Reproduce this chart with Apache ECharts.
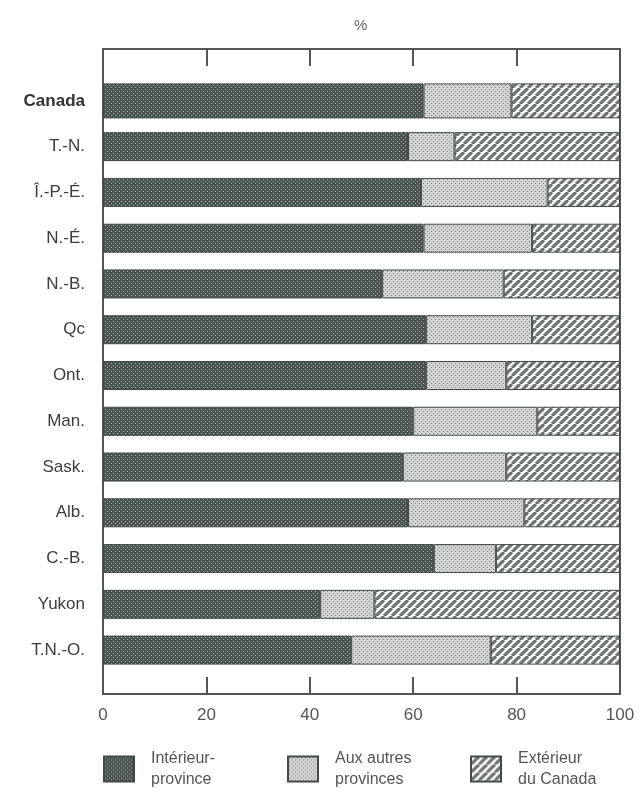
<!DOCTYPE html>
<html><head><meta charset="utf-8">
<script src="https://cdn.jsdelivr.net/npm/echarts@6/dist/echarts.min.js"></script>
<style>html,body{margin:0;padding:0;background:#fff}#c{width:639px;height:794px}</style>
</head><body><div id="c"></div>
<script>
// ---- data ----
const categories = ['Canada','T.-N.','Î.-P.-É.','N.-É.','N.-B.','Qc','Ont.','Man.','Sask.','Alb.','C.-B.','Yukon','T.N.-O.'];
const interieur = [62, 59, 61.5, 62, 54, 62.5, 62.5, 60, 58, 59, 64, 42, 48];
const autresProvinces = [17, 9, 24.5, 21, 23.5, 20.5, 15.5, 24, 20, 22.5, 12, 10.5, 27];
const exterieur = [21, 32, 14, 17, 22.5, 17, 22, 16, 22, 18.5, 24, 47.5, 25];
const seriesNames = ['Intérieur-\nprovince', 'Aux autres\nprovinces', 'Extérieur\ndu Canada'];
const axisMin = 0, axisMax = 100, axisStep = 20;
const unitLabel = '%';

// ---- patterns ----
function dotPattern(bg, dot) {
  const c = document.createElement('canvas'); c.width = 4; c.height = 4;
  const g = c.getContext('2d');
  g.fillStyle = bg; g.fillRect(0, 0, 4, 4);
  g.fillStyle = dot; g.fillRect(1, 1, 1, 1); g.fillRect(3, 3, 1, 1);
  return { image: c, repeat: 'repeat' };
}
function hatchPattern(bg, line) {
  const s = 8;
  const c = document.createElement('canvas'); c.width = s; c.height = s;
  const g = c.getContext('2d');
  g.fillStyle = bg; g.fillRect(0, 0, s, s);
  g.strokeStyle = line; g.lineWidth = 3.2;
  for (const k of [-s, 0, s]) { g.beginPath(); g.moveTo(k, s); g.lineTo(k + s, 0); g.stroke(); }
  return { image: c, repeat: 'repeat' };
}
const fills = [dotPattern('#4a5550', '#a6afa9'), dotPattern('#d2d4d2', '#7c817e'), hatchPattern('#fafafa', '#6e7470')];
const seriesValues = [interieur, autresProvinces, exterieur];

const chart = echarts.init(document.getElementById('c'), null, { renderer: 'canvas' });

const series = [];
seriesValues.forEach((vals, k) => {
  const style = { color: fills[k], borderColor: '#434a45', borderWidth: 1 };
  series.push({
    name: seriesNames[k], type: 'bar', stack: 'main', xAxisIndex: 2, yAxisIndex: 1,
    barWidth: 29, itemStyle: style, silent: true,
    data: vals.map((v, i) => (categories[i] === 'Canada' ? '-' : v))
  });
  series.push({
    name: seriesNames[k], type: 'bar', stack: 'canada', xAxisIndex: 2, yAxisIndex: 2,
    barWidth: 35, itemStyle: style, silent: true,
    data: vals.map((v, i) => (categories[i] === 'Canada' ? v : '-'))
  });
});

const frameColor = '#555';
const legendBase = {
  orient: 'horizontal', top: 748, padding: 0, icon: 'rect',
  itemWidth: 30, itemHeight: 25, selectedMode: false,
  textStyle: { fontSize: 16, lineHeight: 21, color: '#555', fontFamily: 'Liberation Sans, Arial, sans-serif', padding: [0, 0, 0, 12] }
};

chart.setOption({
  animation: false,
  backgroundColor: '#fff',
  graphic: [{ type: 'text', left: 354, top: 18, style: { text: unitLabel, fontSize: 15, fill: '#666', fontFamily: 'Liberation Sans, Arial, sans-serif' } }],
  grid: [
    { left: 103, right: 19, top: 49, bottom: 100, show: true, borderColor: frameColor, borderWidth: 2, backgroundColor: 'transparent' },
    { left: 103, right: 19, top: 78, bottom: 121 }
  ],
  legend: [
    Object.assign({}, legendBase, { left: 103, data: [seriesNames[0]] }),
    Object.assign({}, legendBase, { left: 287, data: [seriesNames[1]] }),
    Object.assign({}, legendBase, { left: 470, data: [seriesNames[2]] })
  ],
  xAxis: [
    { type: 'value', gridIndex: 0, position: 'bottom', min: axisMin, max: axisMax, interval: axisStep,
      axisLine: { show: true, lineStyle: { color: frameColor, width: 2 } },
      axisTick: { show: true, inside: true, length: 17, lineStyle: { color: frameColor, width: 2 } },
      axisLabel: { show: true, fontSize: 17, color: '#555', margin: 13, fontFamily: 'Liberation Sans, Arial, sans-serif' },
      splitLine: { show: false } },
    { type: 'value', gridIndex: 0, position: 'top', min: axisMin, max: axisMax, interval: axisStep,
      axisLine: { show: true, lineStyle: { color: frameColor, width: 2 } },
      axisTick: { show: true, inside: true, length: 17, lineStyle: { color: frameColor, width: 2 } },
      axisLabel: { show: false }, splitLine: { show: false } },
    { type: 'value', gridIndex: 1, min: axisMin, max: axisMax, show: false, splitLine: { show: false } }
  ],
  yAxis: [
    { type: 'value', gridIndex: 0, show: false, splitLine: { show: false } },
    { type: 'category', gridIndex: 1, data: categories, inverse: true,
      axisLine: { show: false }, axisTick: { show: false }, splitLine: { show: false },
      axisLabel: { fontSize: 17, color: '#3d3d3d', margin: 18, fontFamily: 'Liberation Sans, Arial, sans-serif',
        formatter: v => (v === 'Canada' ? '{b|' + v + '}' : v),
        rich: { b: { fontWeight: 'bold', fontSize: 17, color: '#333', fontFamily: 'Liberation Sans, Arial, sans-serif' } } } },
    { type: 'category', gridIndex: 1, data: categories, inverse: true, show: false }
  ],
  series: series
});
</script>
</body></html>
